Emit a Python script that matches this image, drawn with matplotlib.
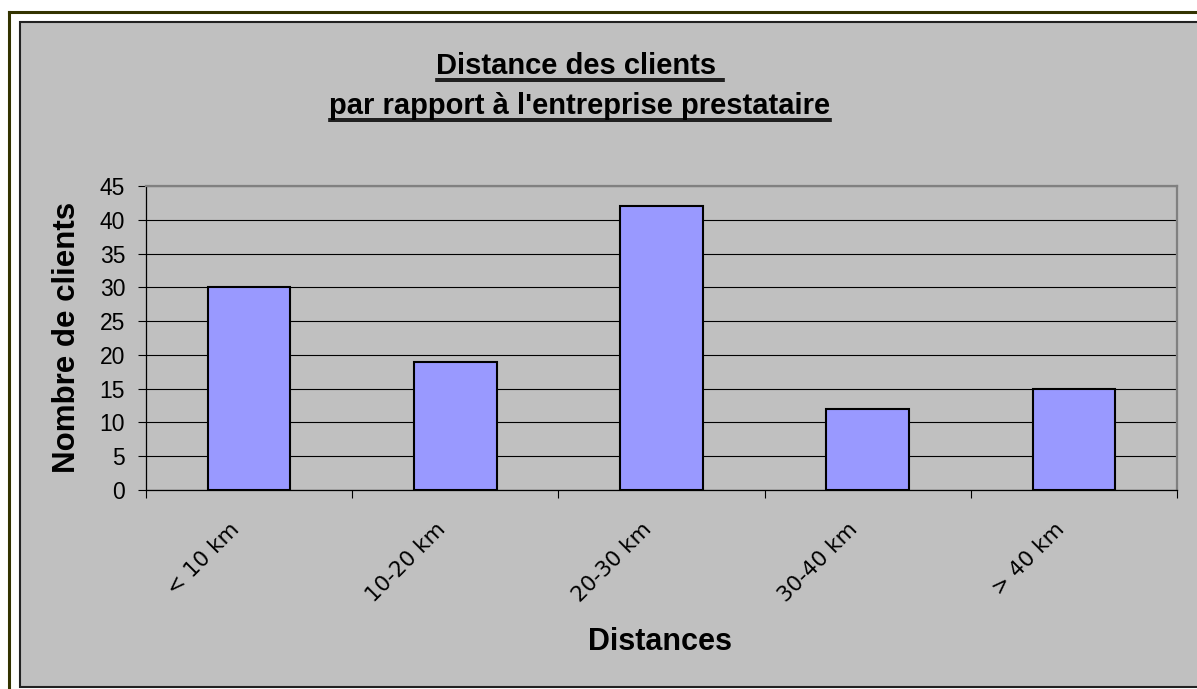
import matplotlib
matplotlib.use("Agg")
import matplotlib.pyplot as plt
from matplotlib.patches import Rectangle
from matplotlib.lines import Line2D
from matplotlib.transforms import ScaledTranslation

categories = ["< 10 km", "10-20 km", "20-30 km", "30-40 km", "> 40 km"]
values = [30, 19, 42, 12, 15]
yticks = [0, 5, 10, 15, 20, 25, 30, 35, 40, 45]
title_lines = ["Distance des clients ", "par rapport à l'entreprise prestataire"]
xlabel = "Distances"
ylabel = "Nombre de clients"

W, H = 1197, 689
fig = plt.figure(figsize=(W / 100, H / 100), dpi=100)
fig.patch.set_facecolor("white")

def fx(x):
    return x / W

def fy(y):
    return (H - y) / H

# outer olive border (top and left)
fig.add_artist(Line2D([fx(9), fx(W + 5)], [fy(12), fy(12)], color="#333300", lw=2.2))
fig.add_artist(Line2D([fx(9), fx(9)], [fy(12), fy(H + 5)], color="#333300", lw=2.2))

# chart area
fig.add_artist(Rectangle((fx(20), fy(687)), fx(W + 20) - fx(20), fy(22) - fy(687),
                         facecolor="#C0C0C0", edgecolor="#222222", lw=1.5,
                         transform=fig.transFigure, zorder=0))

ax = fig.add_axes([fx(146), fy(490), fx(1177) - fx(146), fy(186) - fy(490)])
ax.set_facecolor("#C0C0C0")
x = list(range(len(categories)))
ax.bar(x, values, width=0.4, color="#9999FF", edgecolor="black", linewidth=1.5, zorder=3)
ax.set_xlim(-0.5, len(categories) - 0.5)
ax.set_ylim(0, 45)
ax.set_yticks(yticks)
ax.set_yticklabels([str(v) for v in yticks], fontfamily="Liberation Sans", fontsize=16.5)
ax.yaxis.grid(True, color="black", lw=0.8, zorder=1)
ax.set_axisbelow(True)
ax.tick_params(axis="y", direction="out", length=6, width=0.8, pad=9, colors="black")

ax.set_xticks(x)
ax.set_xticklabels(categories, rotation=45, ha="right", va="center",
                   rotation_mode="anchor", fontfamily="DejaVu Sans", fontsize=15.5)
ax.set_xticks([i - 0.5 for i in range(len(categories) + 1)], minor=True)
ax.tick_params(axis="x", which="major", length=0, pad=26)
ax.tick_params(axis="x", which="minor", direction="out", length=6, width=0.8)
shift = ScaledTranslation(-9.4 / 72, 0, fig.dpi_scale_trans)
for lab in ax.get_xticklabels():
    lab.set_transform(lab.get_transform() + shift)

for s in ["left", "bottom"]:
    ax.spines[s].set_color("black")
    ax.spines[s].set_linewidth(0.9)
for s in ["top", "right"]:
    ax.spines[s].set_color("#808080")
    ax.spines[s].set_linewidth(1.6)

# axis titles
fig.text(fx(67.5), fy(337.5), ylabel, rotation=90, ha="center", va="center",
         fontfamily="Liberation Sans", fontweight="bold", fontsize=22.5)
fig.text(fx(660.5), fy(650), xlabel, ha="center", va="baseline",
         fontfamily="Liberation Sans", fontweight="bold", fontsize=22)

# title with underline
fig.canvas.draw()
renderer = fig.canvas.get_renderer()
baselines = [73.5, 113.5]
for line, base in zip(title_lines, baselines):
    t = fig.text(fx(580), fy(base), line, ha="center", va="baseline",
                 fontfamily="Liberation Sans", fontweight="bold", fontsize=21)
    bb = t.get_window_extent(renderer)
    x0, x1 = bb.x0, bb.x1
    for off in (5.2, 7.6):
        yy = fy(base + off)
        fig.add_artist(Line2D([x0 / W, x1 / W], [yy, yy], color="black", lw=1.2))

fig.savefig("out.png", dpi=100, facecolor=fig.get_facecolor())
